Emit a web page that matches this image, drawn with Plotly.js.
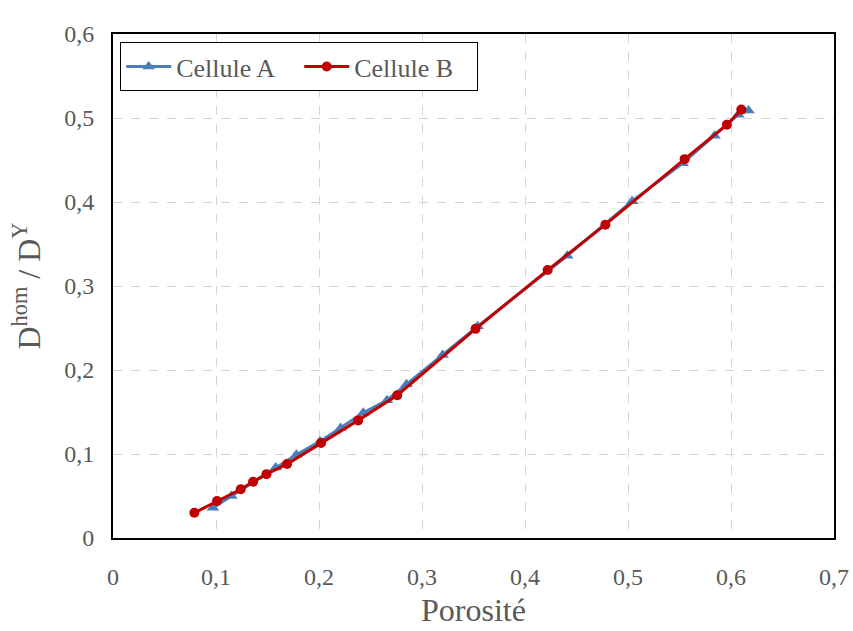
<!DOCTYPE html>
<html>
<head>
<meta charset="utf-8">
<script src="https://cdn.plot.ly/plotly-3.0.1.min.js"></script>
<style>html,body{margin:0;padding:0;background:#fff;}#chart{width:853px;height:631px;}</style>
</head>
<body>
<div id="chart"></div>
<script>
const seriesNames = ["Cellule A", "Cellule B"];
const porositeA = [0.097, 0.115, 0.158, 0.178, 0.201, 0.221, 0.243, 0.266, 0.285, 0.320, 0.354, 0.441, 0.504, 0.553, 0.584, 0.607, 0.617];
const dhomA     = [0.036, 0.050, 0.084, 0.099, 0.115, 0.131, 0.149, 0.164, 0.183, 0.218, 0.252, 0.336, 0.401, 0.446, 0.479, 0.504, 0.509];
const porositeB = [0.079, 0.101, 0.124, 0.136, 0.149, 0.169, 0.202, 0.238, 0.276, 0.352, 0.422, 0.478, 0.555, 0.596, 0.610];
const dhomB     = [0.030, 0.044, 0.058, 0.067, 0.076, 0.088, 0.113, 0.140, 0.170, 0.249, 0.319, 0.373, 0.451, 0.492, 0.510];
const xTicks = [0, 0.1, 0.2, 0.3, 0.4, 0.5, 0.6, 0.7];
const yTicks = [0, 0.1, 0.2, 0.3, 0.4, 0.5, 0.6];

const font = "'Liberation Serif', 'Times New Roman', serif";
const grey = "#595959";

const traces = [
  {x: porositeA, y: dhomA, name: seriesNames[0], mode: "lines+markers", type: "scatter",
   line: {color: "#4a7ebb", width: 3}, marker: {symbol: "triangle-up", size: 11, color: "#4a7ebb"}},
  {x: porositeB, y: dhomB, name: seriesNames[1], mode: "lines+markers", type: "scatter",
   line: {color: "#c00000", width: 3}, marker: {symbol: "circle", size: 10, color: "#c00000"}}
];

const axisCommon = {
  showgrid: true, gridcolor: "#d4d4d4", griddash: "dash", gridwidth: 1,
  zeroline: false, showline: true, mirror: true, linecolor: "#000", linewidth: 2,
  ticks: "", tickfont: {family: font, size: 24, color: grey}
};

const layout = {
  width: 853, height: 631,
  margin: {l: 113, r: 19, t: 34, b: 93},
  paper_bgcolor: "#fff", plot_bgcolor: "#fff",
  separators: ", ",
  showlegend: true,
  legend: {orientation: "h", x: 0.01, y: 0.984, xanchor: "left", yanchor: "top",
           bordercolor: "#000", borderwidth: 1, bgcolor: "#fff",
           font: {family: font, size: 26, color: grey}, itemwidth: 45,
           entrywidth: 118, entrywidthmode: "pixels"},
  xaxis: Object.assign({}, axisCommon, {range: [0, 0.7], tickvals: xTicks, ticklabelstandoff: 16,
    title: {text: "Porosité", font: {family: font, size: 32, color: grey}, standoff: 10}}),
  yaxis: Object.assign({}, axisCommon, {range: [0, 0.6], tickvals: yTicks, ticklabelstandoff: 12,
    title: {text: "D<sup>hom</sup> / D<sup>Y</sup>", font: {family: font, size: 32, color: grey}, standoff: 14}})
};

Plotly.newPlot("chart", traces, layout, {displayModeBar: false, staticPlot: true});
</script>
</body>
</html>
